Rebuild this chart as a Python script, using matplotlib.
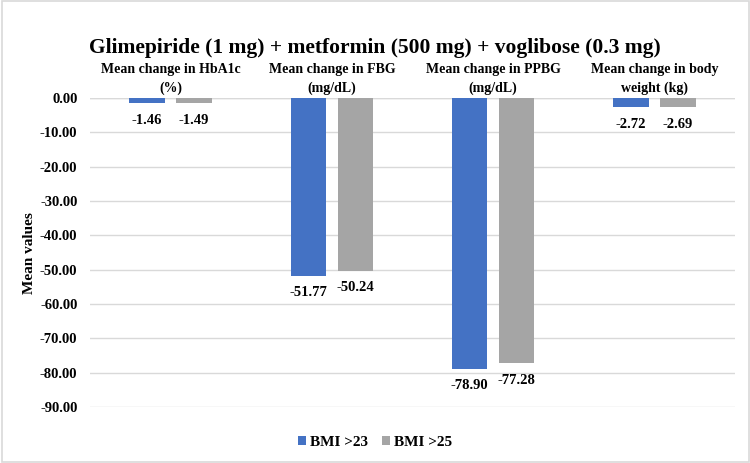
import matplotlib
matplotlib.use("Agg")
import matplotlib.pyplot as plt
import numpy as np
from matplotlib.patches import Rectangle

categories = ["Mean change in HbA1c\n(%)", "Mean change in FBG\n(mg/dL)",
              "Mean change in PPBG\n(mg/dL)", "Mean change in body\nweight (kg)"]
bmi23 = [-1.46, -51.77, -78.90, -2.72]
bmi25 = [-1.49, -50.24, -77.28, -2.69]
series_names = ["BMI >23", "BMI >25"]
colors = ["#4472C4", "#A5A5A5"]

plt.rcParams['font.family'] = ['Liberation Serif', 'DejaVu Serif']
plt.rcParams['font.weight'] = 'bold'

fig = plt.figure(figsize=(7.5, 4.63), dpi=100)
ax = fig.add_axes([0.12, 0.121, 0.86, 0.667])

x = np.arange(len(categories))
w = 0.22
off = 0.146
bars1 = ax.bar(x - off, bmi23, w, color=colors[0], label=series_names[0], zorder=3)
bars2 = ax.bar(x + off, bmi25, w, color=colors[1], label=series_names[1], zorder=3)

for bars, vals in ((bars1, bmi23), (bars2, bmi25)):
    for b, v in zip(bars, vals):
        ax.annotate(f"{v:.2f}", (b.get_x() + b.get_width() / 2, v),
                    xytext=(0, -7.5), textcoords="offset points",
                    ha="center", va="top", fontsize=10.5, fontweight="bold")

ax.set_ylim(-90, 0)
ax.set_xlim(-0.5, 3.5)
ax.set_yticks(np.arange(-90, 1, 10))
ax.set_yticklabels([f"{v:.2f}" for v in np.arange(-90, 1, 10)], fontsize=10.5, fontweight="bold")
ax.yaxis.grid(True, color="#d9d9d9", linewidth=1, zorder=0)
ax.set_axisbelow(True)
ax.xaxis.tick_top()
ax.set_xticks(x)
ax.set_xticklabels(categories, fontsize=10, fontweight="bold", linespacing=1.5)
ax.tick_params(axis="both", length=0)
ax.tick_params(axis="x", pad=2.5)
ax.tick_params(axis="y", pad=9)
for s in ax.spines.values():
    s.set_visible(False)
ax.axhline(0, color="#d9d9d9", linewidth=1, zorder=1)
ax.set_ylabel("Mean values", fontsize=11, fontweight="bold", labelpad=3)

fig.text(0.5, 0.896, "Glimepiride (1 mg) + metformin (500 mg) + voglibose (0.3 mg)",
         ha="center", va="center", fontsize=15.5, fontweight="bold")

fig.legend(loc="center", bbox_to_anchor=(0.5, 0.045), ncol=2, frameon=False,
           fontsize=11, handlelength=0.55, handleheight=0.55, handletextpad=0.25,
           columnspacing=0.9)

fig.patches.append(Rectangle((0.002, 0.003), 0.996, 0.994, transform=fig.transFigure,
                             fill=False, edgecolor="#d9d9d9", linewidth=1.2))

fig.savefig("out.png", dpi=100)
